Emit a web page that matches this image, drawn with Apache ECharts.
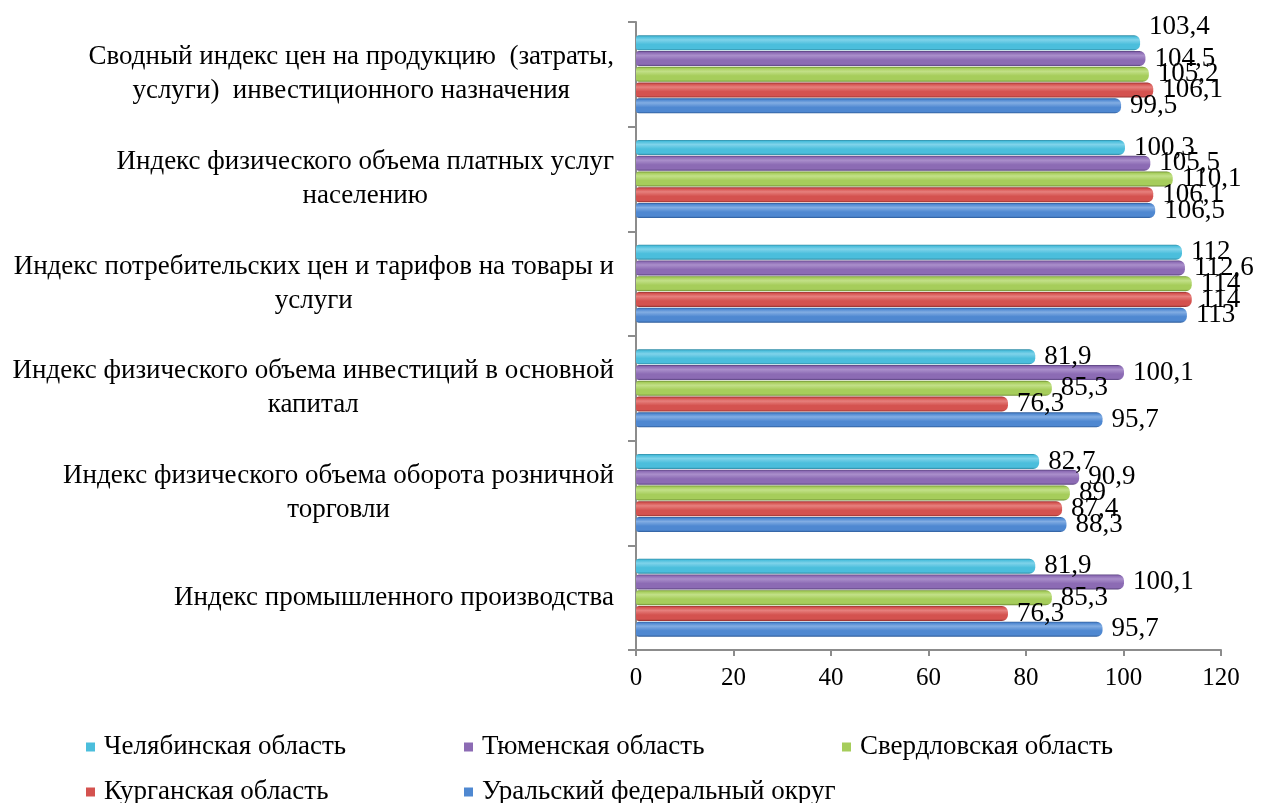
<!DOCTYPE html>
<html>
<head>
<meta charset="utf-8">
<script src="https://cdn.jsdelivr.net/npm/echarts@6/dist/echarts.min.js"></script>
<style>
  html, body { margin: 0; padding: 0; background: #ffffff; }
  #chart { width: 1267px; height: 803px; }
</style>
</head>
<body>
<div id="chart"></div>
<script>
// Indicator names, listed from the bottom of the axis to the top
const categories = [
  'Индекс промышленного производства',
  'Индекс физического объема оборота розничной\nторговли',
  'Индекс физического объема инвестиций в основной\nкапитал',
  'Индекс потребительских цен и тарифов на товары и\nуслуги',
  'Индекс физического объема платных услуг\nнаселению',
  'Сводный индекс цен на продукцию  (затраты,\nуслуги)  инвестиционного назначения'
];

// Regions, in legend order (top bar of each group first)
const seriesNames = [
  'Челябинская область',
  'Тюменская область',
  'Свердловская область',
  'Курганская область',
  'Уральский федеральный округ'
];

// Index values per region, one value per indicator (same order as categories)
const chelyabinsk = [81.9, 82.7, 81.9, 112, 100.3, 103.4];
const tyumen      = [100.1, 90.9, 100.1, 112.6, 105.5, 104.5];
const sverdlovsk  = [85.3, 89, 85.3, 114, 110.1, 105.2];
const kurgan      = [76.3, 87.4, 76.3, 114, 106.1, 106.1];
const uralFD      = [95.7, 88.3, 95.7, 113, 106.5, 99.5];

const xTicks = { min: 0, max: 120, interval: 20 };

const seriesValues = [chelyabinsk, tyumen, sverdlovsk, kurgan, uralFD];

// Cylinder shading per region: [light, base, dark]
const palette = [
  ['#7FD3EA', '#4BBEDC', '#2E8AA3'],
  ['#AA8FCB', '#8C6BB4', '#57407C'],
  ['#C2E088', '#A6CD5B', '#6A8A30'],
  ['#E6807D', '#D4524F', '#93302D'],
  ['#82ADE3', '#4F88D1', '#2C5A98']
];

const FONT = "'Liberation Serif', 'Times New Roman', serif";

function cylinder(c) {
  return new echarts.graphic.LinearGradient(0, 0, 0, 1, [
    { offset: 0, color: c[2] },
    { offset: 0.1, color: c[1] },
    { offset: 0.3, color: c[0] },
    { offset: 0.6, color: c[1] },
    { offset: 0.88, color: c[1] },
    { offset: 1, color: c[2] }
  ]);
}

function fmt(v) {
  return String(v).replace('.', ',');
}

const series = seriesNames.map((name, si) => ({
  name: name,
  type: 'bar',
  barWidth: 15,
  barGap: '5%',
  barCategoryGap: '24%',
  data: seriesValues[si].map((v, ci) => {
    const item = { value: v };
    // the top label of the last group sits above its bar
    if (si === 0 && ci === 5) item.label = { offset: [0, -16] };
    return item;
  }),
  itemStyle: {
    color: cylinder(palette[si]),
    borderRadius: [3, 6, 6, 3]
  },
  label: {
    show: true,
    position: 'right',
    distance: 9,
    color: '#000',
    fontFamily: FONT,
    fontSize: 27,
    formatter: p => fmt(p.value)
  }
}));

const chart = echarts.init(document.getElementById('chart'));
chart.setOption({
  backgroundColor: '#ffffff',
  animation: false,
  grid: { left: 636, top: 22, width: 585, height: 628, containLabel: false },
  legend: {
    left: 81,
    top: 728,
    width: 1150,
    itemWidth: 9,
    itemHeight: 9,
    itemGap: 17,
    icon: 'rect',
    data: seriesNames.map((n, i) => ({ name: n, itemStyle: { color: palette[i][1] } })),
    textStyle: {
      fontFamily: FONT,
      fontSize: 27,
      color: '#000',
      width: 343,
      lineHeight: 28,
      padding: [0, 0, 0, 4]
    }
  },
  xAxis: {
    type: 'value',
    min: xTicks.min,
    max: xTicks.max,
    interval: xTicks.interval,
    splitLine: { show: false },
    axisLine: { show: true, lineStyle: { color: '#8c8c8c', width: 2 } },
    axisTick: { show: true, length: 6, lineStyle: { color: '#8c8c8c', width: 2 } },
    axisLabel: { fontFamily: FONT, fontSize: 25, color: '#000', margin: 16 }
  },
  yAxis: {
    type: 'category',
    data: categories,
    axisLine: { show: true, lineStyle: { color: '#8c8c8c', width: 2 } },
    axisTick: { show: true, length: 8, lineStyle: { color: '#8c8c8c', width: 2 } },
    axisLabel: {
      margin: 22,
      color: '#000',
      fontFamily: FONT,
      fontSize: 27,
      lineHeight: 34,
      formatter: v => v.split('\n').map(l => '{c|' + l + '}').join('\n'),
      rich: {
        c: { align: 'center', fontFamily: FONT, fontSize: 27, lineHeight: 34, color: '#000' }
      }
    }
  },
  series: series
});
</script>
</body>
</html>
